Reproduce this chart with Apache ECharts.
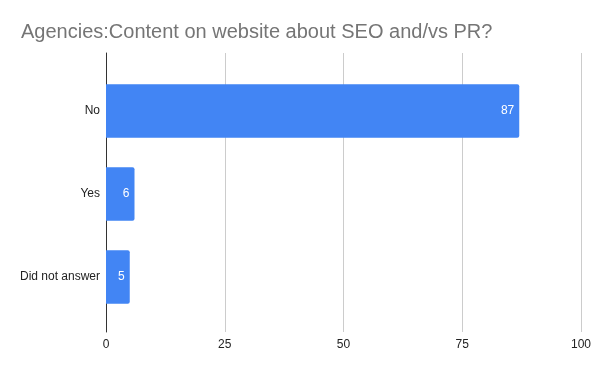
<!DOCTYPE html>
<html><head><meta charset="utf-8">
<script src="https://cdn.jsdelivr.net/npm/echarts@6/dist/echarts.min.js"></script>
<style>html,body{margin:0;padding:0;background:#fff}#c{width:600px;height:371px}</style>
</head><body><div id="c"></div>
<script>
const categories = ["No", "Yes", "Did not answer"];
const values = [87, 6, 5];
const xTicks = [0, 25, 50, 75, 100];

const chart = echarts.init(document.getElementById('c'), null, {renderer: 'canvas'});
const font = '"Liberation Sans", Arial, sans-serif';
chart.setOption({
  animation: false,
  backgroundColor: '#fff',
  title: {
    text: 'Agencies:Content on website about SEO and/vs PR?',
    left: 16, top: 17,
    textStyle: {fontFamily: font, fontSize: 20, fontWeight: 'normal', color: '#757575'}
  },
  grid: [
    {left: 106, right: 19, top: 53, bottom: 39},
    {left: 106, right: 19, top: 69.5, bottom: 52.5}
  ],
  xAxis: [
    {gridIndex: 0, type: 'value', min: xTicks[0], max: xTicks[xTicks.length-1], interval: 25,
     axisLine: {show: false}, axisTick: {show: false},
     axisLabel: {fontFamily: font, fontSize: 12, color: '#222', margin: 7},
     splitLine: {show: true, lineStyle: {color: '#cccccc', width: 1}}},
    {gridIndex: 1, type: 'value', min: 0, max: 100, interval: 25, show: false}
  ],
  yAxis: [
    {gridIndex: 0, type: 'category', data: categories, inverse: true,
     axisLine: {show: true, lineStyle: {color: '#333', width: 1}},
     axisTick: {show: false}, axisLabel: {show: false}, splitLine: {show: false}},
    {gridIndex: 1, type: 'category', data: categories, inverse: true,
     axisLine: {show: false}, axisTick: {show: false},
     axisLabel: {fontFamily: font, fontSize: 12, color: '#222', margin: 6}}
  ],
  series: [{
    type: 'bar', xAxisIndex: 1, yAxisIndex: 1,
    data: values,
    barCategoryGap: '35.5%',
    itemStyle: {color: '#4285f4', borderRadius: [0, 2, 2, 0]},
    label: {show: true, position: 'insideRight', distance: 5, color: '#fff',
            fontFamily: font, fontSize: 12}
  }]
});
</script></body></html>
